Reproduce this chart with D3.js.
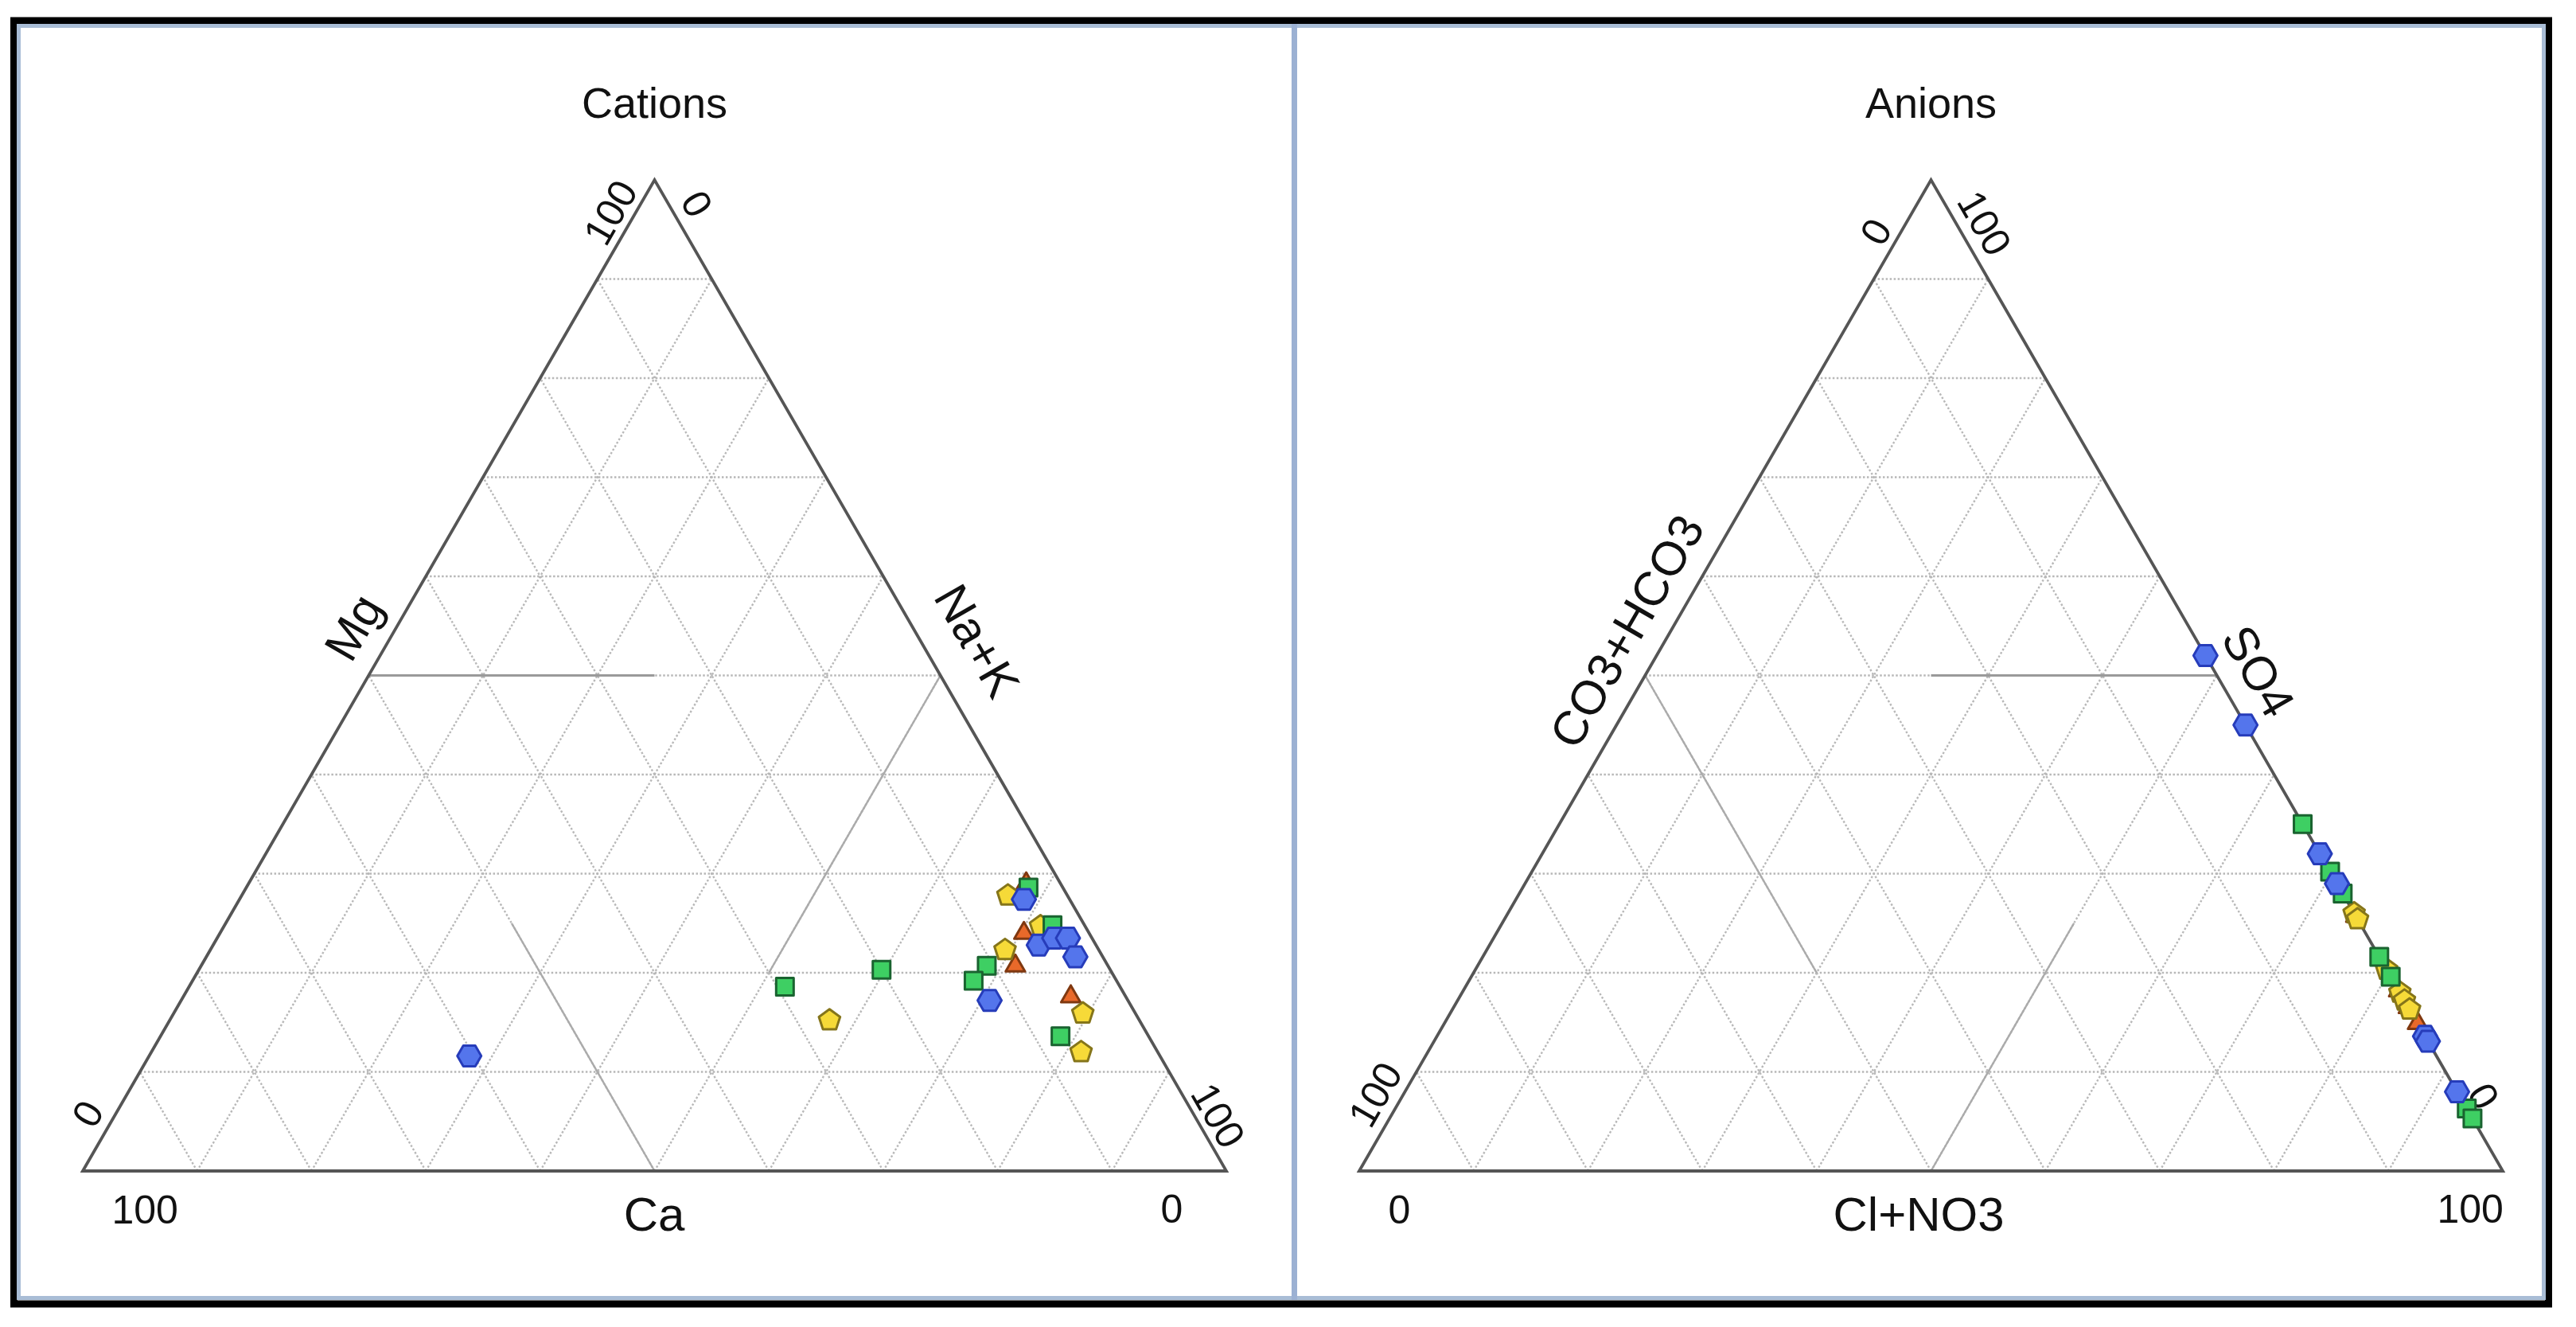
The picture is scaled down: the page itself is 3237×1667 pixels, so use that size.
<!DOCTYPE html>
<html>
<head>
<meta charset="utf-8">
<script src="https://cdn.jsdelivr.net/npm/d3@7"></script>
<style>
body { margin: 0; background: #fff; }
text { font-family: "Liberation Sans", Arial, sans-serif; fill: #111; }
</style>
</head>
<body>
<div id="vis"></div>
<script>

// cation triangle samples, each [Ca, Mg, Na+K] in %
var catTriangles = [[3.0, 29.0, 68.0], [5.7, 24.0, 70.3], [8.1, 20.7, 71.2], [4.8, 17.6, 77.6]];
var catPentagons = [[5.2, 27.8, 67.0], [3.9, 24.7, 71.4], [8.2, 22.3, 69.5], [4.6, 15.9, 79.5], [6.7, 12.0, 81.3], [27.1, 15.2, 57.7]];
var catSquares = [[3.0, 28.6, 68.4], [2.8, 24.8, 72.4], [10.6, 20.7, 68.7], [12.5, 19.2, 68.3], [7.7, 13.6, 78.7], [29.3, 18.6, 52.1], [20.0, 20.3, 59.7]];
var catHexagons = [[4.0, 27.4, 68.6], [5.0, 22.8, 72.2], [3.3, 23.5, 73.2], [2.1, 23.5, 74.4], [2.4, 21.6, 76.0], [12.1, 17.2, 70.7], [60.4, 11.6, 28.0]];

// anion triangle samples, each [CO3+HCO3, SO4, Cl+NO3] in %
var anTriangles = [[0, 25.7, 74.3], [0, 18.2, 81.8], [0, 16.5, 83.5], [0, 14.9, 85.1]];
var anPentagons = [[0, 26.0, 74.0], [0, 25.4, 74.6], [0, 20.3, 79.7], [0, 18.0, 82.0], [0, 17.2, 82.8], [0, 16.3, 83.7]];
var anSquares = [[0, 35.0, 65.0], [0, 30.2, 69.8], [0, 28.0, 72.0], [0, 21.6, 78.4], [0, 19.6, 80.4], [0, 6.3, 93.7], [0, 5.3, 94.7]];
var anHexagons = [[0, 52.0, 48.0], [0, 45.0, 55.0], [0, 32.0, 68.0], [0, 29.0, 71.0], [0, 13.6, 86.4], [0, 13.1, 86.9], [0, 8.0, 92.0]];

// tick labels: apex left, apex right, left side bottom, right side bottom, bottom left, bottom right
var catTicks = ["100", "0", "0", "100", "100", "0"];
var anTicks = ["0", "100", "100", "0", "0", "100"];

var catAxes = ["Mg", "Na+K", "Ca"];
var anAxes = ["CO3+HCO3", "SO4", "Cl+NO3"];

var gridSteps = d3.range(10, 100, 10);

var W = 3237, H = 1667;
var side = 1437, triH = 1245, baseY = 1471;

var svg = d3.select("#vis").append("svg")
	.attr("width", W)
	.attr("height", H);

svg.append("rect").attr("width", W).attr("height", H).attr("fill", "#fff");

// frame
svg.append("rect")
	.attr("x", 17.5).attr("y", 26)
	.attr("width", 3185).attr("height", 1612)
	.attr("fill", "none").attr("stroke", "#000").attr("stroke-width", 9);

svg.append("rect")
	.attr("x", 23.5).attr("y", 32.5)
	.attr("width", 3173).attr("height", 1598)
	.attr("fill", "none").attr("stroke", "#a9bdd6").attr("stroke-width", 5);

svg.append("line")
	.attr("x1", 1626.5).attr("x2", 1626.5)
	.attr("y1", 30).attr("y2", 1633)
	.attr("stroke", "#9cb1d3").attr("stroke-width", 7);

function polyPath (n, r, start) {
	var pts = d3.range(n).map(function (i) {
		var a = start + i * 2 * Math.PI / n;
		return [r * Math.cos(a), r * Math.sin(a)];
	});
	return "M" + pts.map(function (p) { return p[0].toFixed(2) + "," + p[1].toFixed(2) }).join("L") + "Z";
}

var markers = {
	tri: { path: polyPath(3, 14, -Math.PI / 2), fill: "#e8692a", stroke: "#7f3810" },
	pent: { path: polyPath(5, 14, -Math.PI / 2), fill: "#f6da38", stroke: "#85751a" },
	square: { path: "M-11,-11H11V11H-11Z", fill: "#3ecf63", stroke: "#1a6330" },
	hex: { path: polyPath(6, 15, 0), fill: "#5475ec", stroke: "#263cba" }
};

function drawPanel (p) {
	var x = d3.scaleLinear().domain([0, 100]).range([p.left, p.left + side]);
	var y = d3.scaleLinear().domain([0, 100]).range([baseY, baseY - triH]);

	var g = svg.append("g");
	var line = d3.line()
		.x(function (d) { return x(d[0]) })
		.y(function (d) { return y(d[1]) });

	// dotted grid in (u, v): u along the base, v the height
	var grid = [];
	gridSteps.forEach(function (k) {
		grid.push([[k / 2, k], [100 - k / 2, k]]);
		grid.push([[k, 0], [k + (100 - k) / 2, 100 - k]]);
		grid.push([[100 - k, 0], [(100 - k) / 2, 100 - k]]);
	});

	g.selectAll(".grid")
		.data(grid)
		.enter()
		.append("path")
		.attr("d", line)
		.attr("fill", "none")
		.attr("stroke", "#b8b8b8")
		.attr("stroke-width", 2.4)
		.attr("stroke-dasharray", "2.5,2.5");

	g.selectAll(".zone")
		.data(p.zones)
		.enter()
		.append("path")
		.attr("d", line)
		.attr("fill", "none")
		.attr("stroke", function (d) { return d[0][1] == d[1][1] ? "#9a9a9a" : "#ababab"; })
		.attr("stroke-width", function (d) { return d[0][1] == d[1][1] ? 3 : 2.4; });

	g.append("path")
		.attr("d", line([[0, 0], [50, 100], [100, 0]]) + "Z")
		.attr("fill", "none")
		.attr("stroke", "#555")
		.attr("stroke-width", 3.8);

	var apex = [x(50), y(100)], bl = [x(0), y(0)], br = [x(100), y(0)];

	// tick labels, anchored at their start
	var tickPos = [
		[apex[0] - 76.5, apex[1] + 77, -60],
		[apex[0] + 46.5, apex[1] + 18, 60],
		[bl[0] - 1, bl[1] - 60, -60],
		[br[0] - 31, br[1] - 106, 60],
		[bl[0] + 36.5, bl[1] + 48, 0],
		[br[0] - 82.5, br[1] + 47, 0]
	];

	g.selectAll(".tick")
		.data(p.ticks)
		.enter()
		.append("text")
		.attr("transform", function (d, i) {
			var t = tickPos[i];
			return "translate(" + t[0] + "," + t[1] + ") rotate(" + t[2] + ")";
		})
		.attr("dy", "0.35em")
		.attr("font-size", 50)
		.attr("text-anchor", "start")
		.text(function (d) { return d; });

	g.selectAll(".axis-name")
		.data(p.axes)
		.enter()
		.append("text")
		.attr("transform", function (d, i) {
			var t = p.axisPos[i];
			return "translate(" + (p.left + t[0]) + "," + t[1] + ") rotate(" + t[2] + ")";
		})
		.attr("dy", "0.35em")
		.attr("font-size", 60)
		.attr("text-anchor", "middle")
		.text(function (d) { return d; });

	g.append("text")
		.attr("x", apex[0])
		.attr("y", 148)
		.attr("font-size", 54)
		.attr("text-anchor", "middle")
		.text(p.title);

	// samples, [bottom-left, top, bottom-right]
	p.series.forEach(function (s) {
		var m = markers[s.marker];
		g.selectAll(".pt-" + s.marker)
			.data(s.data)
			.enter()
			.append("path")
			.attr("d", m.path)
			.attr("transform", function (d) {
				return "translate(" + x(d[2] + d[1] / 2) + "," + y(d[1]) + ")";
			})
			.attr("fill", m.fill)
			.attr("stroke", m.stroke)
			.attr("stroke-width", 3)
			.attr("stroke-linejoin", "round");
	});
}

drawPanel({
	left: 104,
	title: "Cations",
	ticks: catTicks,
	axes: catAxes,
	axisPos: [[340, 788, -60], [1124, 805, 60], [718, 1525, 0]],
	zones: [[[25, 50], [50, 50]], [[50, 0], [37.5, 25]], [[75, 50], [60, 20]]],
	series: [
		{ marker: "tri", data: catTriangles },
		{ marker: "pent", data: catPentagons },
		{ marker: "square", data: catSquares },
		{ marker: "hex", data: catHexagons }
	]
});

drawPanel({
	left: 1708,
	title: "Anions",
	ticks: anTicks,
	axes: anAxes,
	axisPos: [[336, 793, -60], [1130, 843, 60], [703, 1525, 0]],
	zones: [[[50, 50], [75, 50]], [[50, 0], [62.5, 25]], [[25, 50], [40, 20]]],
	series: [
		{ marker: "tri", data: anTriangles },
		{ marker: "pent", data: anPentagons },
		{ marker: "square", data: anSquares },
		{ marker: "hex", data: anHexagons }
	]
});

</script>
</body>
</html>
